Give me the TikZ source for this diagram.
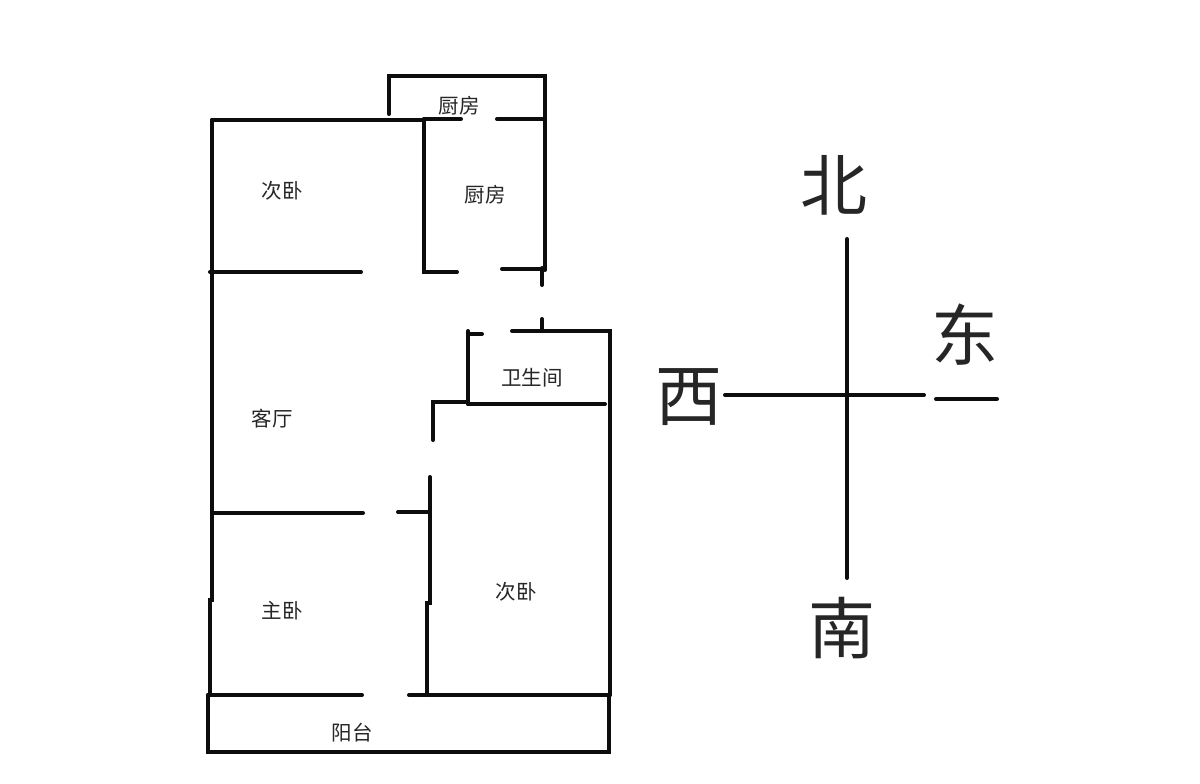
\documentclass[tikz,border=0pt]{standalone}
\usepackage{fontspec}
\newfontfamily\cjk{Noto Sans CJK SC}
\tikzset{wall/.style={line width=4pt,line cap=round,line join=miter,black!95},
room/.style={font=\cjk\fontsize{20.5pt}{20.5pt}\selectfont,inner sep=0pt,text=black!85},
compass/.style={font=\cjk\fontsize{67pt}{67pt}\selectfont,inner sep=0pt,text=black!85}}
\begin{document}
\begin{tikzpicture}[x=1pt,y=-1pt]
\useasboundingbox (0,0) rectangle (1200,784);
\fill[white] (0,0) rectangle (1200,784);
\draw[wall] (389,114)--(389,76)--(545,76)--(545,270);
\draw[wall] (212,120)--(424,120);
\draw[wall] (424,119)--(461,119);
\draw[wall] (497,119)--(545,119);
\draw[wall] (212,120)--(212,600)--(210,600)--(210,695);
\draw[wall] (424,119)--(424,272)--(457,272);
\draw[wall] (502,269)--(545,269);
\draw[wall] (210,272)--(361,272);
\draw[wall] (542,268)--(542,285);
\draw[wall] (542,319)--(542,331);
\draw[wall] (512,331)--(610,331)--(610,695);
\draw[wall] (482,334)--(468,334);
\draw[wall] (468,331)--(468,404);
\draw[wall] (433,440)--(433,402)--(468,402);
\draw[wall] (468,404)--(605,404);
\draw[wall] (213,513)--(363,513);
\draw[wall] (398,512)--(430,512);
\draw[wall] (430,477)--(430,603)--(427,603)--(427,695);
\draw[wall] (208,695)--(362,695);
\draw[wall] (409,695)--(610,695);
\draw[wall] (208,695)--(208,752)--(609,752)--(609,695);
\draw[wall] (847,239)--(847,578);
\draw[wall] (725,395)--(924,395);
\draw[wall] (936,399)--(997,399);
\node[room] (k1) at (459,106) {厨房};
\node[room] (k2) at (485,195) {厨房};
\node[room] (b1) at (282,191) {次卧};
\node[room] (w) at (532,378) {卫生间};
\node[room] (l) at (272,419) {客厅};
\node[room] (b2) at (516,592) {次卧};
\node[room] (m) at (282,611) {主卧};
\node[room] (y) at (352,733) {阳台};
\node[compass] (n) at (834,185) {北};
\node[compass] (s) at (842,628) {南};
\node[compass] (e) at (965,335) {东};
\node[compass] (we) at (689,397) {西};
\end{tikzpicture}
\end{document}
